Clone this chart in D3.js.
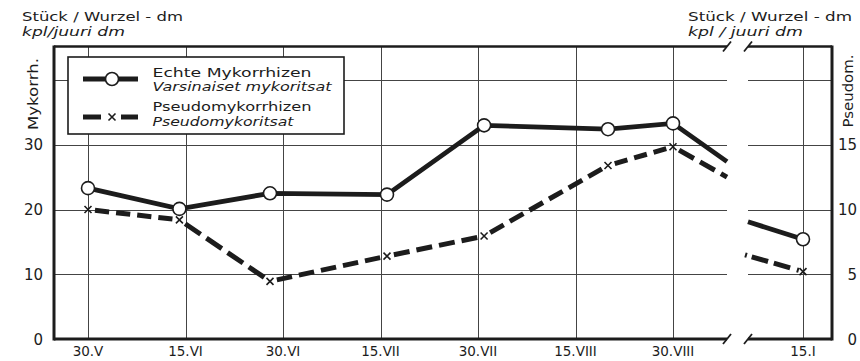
<!DOCTYPE html>
<html>
<head>
<meta charset="utf-8">
<script src="https://cdn.jsdelivr.net/npm/d3@7"></script>
<style>
  body { margin: 0; background: #fff; }
  svg { display: block; }
  text { fill: #1c1c1c; font-family: "DejaVu Sans", sans-serif; }
</style>
</head>
<body>
<svg id="chart" width="860" height="361"></svg>
<script>
// Grid dates (day.month in Roman numerals) shown on the x axis
const tickLabels = ["30.V", "15.VI", "30.VI", "15.VII", "30.VII", "15.VIII", "30.VIII"];
// Actual sampling dates of the summer series
const sampleLabels = ["30.V", "14.VI", "28.VI", "16.VII", "31.VII", "20.VIII", "30.VIII"];
// Sampling date after the axis break (following year)
const lateLabels = ["15.I"];

// Echte Mykorrhizen, pieces per root-dm (left axis)
const mykorrhizen = [23.3, 20.1, 22.5, 22.3, 33.0, 32.4, 33.3];
const mykorrhizenLate = [15.4];
const mykorrhizenAtBreak = [27.4, 18.1];   // values where the line meets both sides of the break

// Pseudomykorrhizen, pieces per root-dm (right axis)
const pseudomykorrhizen = [10.0, 9.2, 4.45, 6.4, 7.95, 13.4, 14.85];
const pseudomykorrhizenLate = [5.2];
const pseudomykorrhizenAtBreak = [12.5, 6.5];

const leftTicks = [0, 10, 20, 30];
const rightTicks = [0, 5, 10, 15];
const gridValues = [10, 20, 30, 40];

// ---------------------------------------------------------------
const romans = ["I", "II", "III", "IV", "V", "VI", "VII", "VIII", "IX", "X", "XI", "XII"];
function parseDay(label, yearOffset = 0) {
  const [d, m] = label.split(".");
  return new Date(2000 + yearOffset, romans.indexOf(m), +d);
}

const ink = "#1c1c1c";
const frame = { left: 54, right: 832, top: 46.5, bottom: 339 };
const breakL = 727, breakR = 748;

const svg = d3.select("#chart");

// Equally spaced grid dates; sampling dates are placed between them by date
const xTick = d3.scalePoint().domain(tickLabels).range([88, 673]);
const x = d3.scaleTime()
  .domain(tickLabels.map(d => parseDay(d)))
  .range(tickLabels.map(d => xTick(d)));
const xLate = d3.scalePoint().domain(lateLabels).range([803, 803]);

const yLeft = d3.scaleLinear().domain([0, 40]).range([frame.bottom, 80]);
const yRight = d3.scaleLinear().domain([0, 20]).range([frame.bottom, 80]);

// ---- grid ----
const grid = svg.append("g").attr("stroke", "#444").attr("stroke-width", 1);
gridValues.forEach(v => {
  const yy = Math.round(yLeft(v)) + 0.5;
  grid.append("line").attr("x1", frame.left).attr("x2", breakL).attr("y1", yy).attr("y2", yy);
  grid.append("line").attr("x1", breakR).attr("x2", frame.right).attr("y1", yy).attr("y2", yy);
});
tickLabels.forEach(t => {
  const xx = Math.round(xTick(t)) + 0.5;
  grid.append("line").attr("x1", xx).attr("x2", xx).attr("y1", frame.top).attr("y2", frame.bottom);
});
lateLabels.forEach(t => {
  const xx = Math.round(xLate(t)) + 0.5;
  grid.append("line").attr("x1", xx).attr("x2", xx).attr("y1", frame.top).attr("y2", frame.bottom);
});

// ---- frame with axis break ----
const fr = svg.append("g").attr("stroke", ink).attr("fill", "none");
fr.append("line").attr("x1", frame.left).attr("x2", frame.left)
  .attr("y1", frame.top - 1).attr("y2", frame.bottom + 1.5).attr("stroke-width", 3);
fr.append("line").attr("x1", frame.right).attr("x2", frame.right)
  .attr("y1", frame.top - 1).attr("y2", frame.bottom + 1.5).attr("stroke-width", 3);
[[frame.top, 2.5], [frame.bottom, 3]].forEach(([yy, w]) => {
  fr.append("line").attr("x1", frame.left).attr("x2", breakL).attr("y1", yy).attr("y2", yy).attr("stroke-width", w);
  fr.append("line").attr("x1", breakR).attr("x2", frame.right).attr("y1", yy).attr("y2", yy).attr("stroke-width", w);
  [breakL, breakR].forEach(bx => {
    fr.append("line").attr("x1", bx - 4).attr("y1", yy + 5).attr("x2", bx + 4).attr("y2", yy - 5)
      .attr("stroke-width", 1.8);
  });
});

// ---- axis labels ----
svg.append("g").selectAll("text").data(tickLabels).join("text")
  .attr("x", d => xTick(d)).attr("y", 355.5)
  .attr("text-anchor", "middle").attr("font-size", 13.5)
  .text(d => d);
svg.append("g").selectAll("text").data(lateLabels).join("text")
  .attr("x", d => xLate(d)).attr("y", 355.5)
  .attr("text-anchor", "middle").attr("font-size", 13.5)
  .text(d => d);

svg.append("g").selectAll("text").data(leftTicks).join("text")
  .attr("x", 43).attr("y", d => yLeft(d) + 5.5)
  .attr("text-anchor", "end").attr("font-size", 15)
  .text(d => d);
svg.append("g").selectAll("text").data(rightTicks).join("text")
  .attr("x", 857).attr("y", d => yRight(d) + 5.5)
  .attr("text-anchor", "end").attr("font-size", 15)
  .text(d => d);

svg.append("text").attr("transform", "translate(38,94) rotate(-90)")
  .attr("text-anchor", "middle").attr("font-size", 14.5)
  .attr("textLength", 72).attr("lengthAdjust", "spacingAndGlyphs").text("Mykorrh.");
svg.append("text").attr("transform", "translate(853,91) rotate(-90)")
  .attr("text-anchor", "middle").attr("font-size", 14.5)
  .attr("textLength", 73).attr("lengthAdjust", "spacingAndGlyphs").text("Pseudom.");

// Unit titles above both axes
function unitTitle(x0, main, mainLen, sub, subLen) {
  svg.append("text").attr("x", x0).attr("y", 21).attr("font-size", 13)
    .attr("textLength", mainLen).attr("lengthAdjust", "spacingAndGlyphs").text(main);
  svg.append("text").attr("x", x0).attr("y", 35.5).attr("font-size", 13).attr("font-style", "italic")
    .attr("textLength", subLen).attr("lengthAdjust", "spacingAndGlyphs").text(sub);
}
unitTitle(22, "Stück / Wurzel - dm", 161, "kpl/juuri dm", 103);
unitTitle(688, "Stück / Wurzel - dm", 164, "kpl / juuri dm", 115);

// ---- series ----
const line = d3.line().x(d => d[0]).y(d => d[1]);

// helpers for dashed segments that leave a gap at each marker
function dashedSegment(g, p0, p1, dash, gap, fit) {
  const L = Math.hypot(p1[0] - p0[0], p1[1] - p0[1]);
  let d = dash;
  if (fit) {
    const n = Math.max(1, Math.round((L - gap) / (dash + gap)));
    d = (L - gap * (n + 1)) / n;
  }
  g.append("path").attr("d", line([p0, p1]))
    .attr("stroke-dasharray", `${d} ${gap}`).attr("stroke-dashoffset", d);
}

const pseudoPts = sampleLabels.map((s, i) => [x(parseDay(s)), yRight(pseudomykorrhizen[i])]);
const pseudoG = svg.append("g").attr("stroke", ink).attr("stroke-width", 5).attr("fill", "none");
for (let i = 0; i < pseudoPts.length - 1; i++) dashedSegment(pseudoG, pseudoPts[i], pseudoPts[i + 1], 17, 7, true);
dashedSegment(pseudoG, pseudoPts[pseudoPts.length - 1], [breakL, yRight(pseudomykorrhizenAtBreak[0])], 17, 7, false);
const pseudoLatePts = lateLabels.map((s, i) => [xLate(s), yRight(pseudomykorrhizenLate[i])]);
pseudoG.append("path")
  .attr("d", line([[breakR - 3, yRight(pseudomykorrhizenAtBreak[1])], ...pseudoLatePts]))
  .attr("stroke-dasharray", "2 5 17 6 17 7").attr("stroke-linecap", "butt");

const mykPts = sampleLabels.map((s, i) => [x(parseDay(s)), yLeft(mykorrhizen[i])]);
const mykG = svg.append("g").attr("stroke", ink).attr("stroke-width", 4.8).attr("fill", "none");
mykG.append("path").attr("d", line([...mykPts, [breakL, yLeft(mykorrhizenAtBreak[0])]]));
const mykLatePts = lateLabels.map((s, i) => [xLate(s), yLeft(mykorrhizenLate[i])]);
mykG.append("path").attr("d", line([[breakR, yLeft(mykorrhizenAtBreak[1])], ...mykLatePts]));

// markers
function cross(g, cx, cy, r) {
  g.append("path").attr("d", `M${cx - r},${cy - r}L${cx + r},${cy + r}M${cx - r},${cy + r}L${cx + r},${cy - r}`);
}
const crossG = svg.append("g").attr("stroke", ink).attr("stroke-width", 1.6).attr("fill", "none");
[...pseudoPts, ...pseudoLatePts].forEach(p => cross(crossG, p[0], p[1], 3.5));

svg.append("g").selectAll("circle").data([...mykPts, ...mykLatePts]).join("circle")
  .attr("cx", d => d[0]).attr("cy", d => d[1]).attr("r", 6.5)
  .attr("fill", "#fff").attr("stroke", ink).attr("stroke-width", 1.6);

// ---- legend ----
const lg = svg.append("g");
lg.append("rect").attr("x", 68).attr("y", 57).attr("width", 276).attr("height", 77)
  .attr("fill", "#fff").attr("stroke", ink).attr("stroke-width", 1.6);
lg.append("line").attr("x1", 83).attr("x2", 138).attr("y1", 79).attr("y2", 79)
  .attr("stroke", ink).attr("stroke-width", 4.8);
lg.append("circle").attr("cx", 112).attr("cy", 79).attr("r", 6.5)
  .attr("fill", "#fff").attr("stroke", ink).attr("stroke-width", 1.6);
[[83, 101], [121, 138]].forEach(([a, b]) => {
  lg.append("line").attr("x1", a).attr("x2", b).attr("y1", 117).attr("y2", 117)
    .attr("stroke", ink).attr("stroke-width", 5);
});
cross(lg.append("g").attr("stroke", ink).attr("stroke-width", 1.6), 112, 117, 3.5);

const legendText = [
  ["Echte Mykorrhizen", 76.5, 159, "normal"],
  ["Varsinaiset mykoritsat", 91, 179, "italic"],
  ["Pseudomykorrhizen", 110.5, 159, "normal"],
  ["Pseudomykoritsat", 125.5, 141, "italic"]
];
lg.selectAll("text").data(legendText).join("text")
  .attr("x", 152.5).attr("y", d => d[1]).attr("font-size", 13)
  .attr("font-style", d => d[3])
  .attr("textLength", d => d[2]).attr("lengthAdjust", "spacingAndGlyphs")
  .text(d => d[0]);
</script>
</body>
</html>
